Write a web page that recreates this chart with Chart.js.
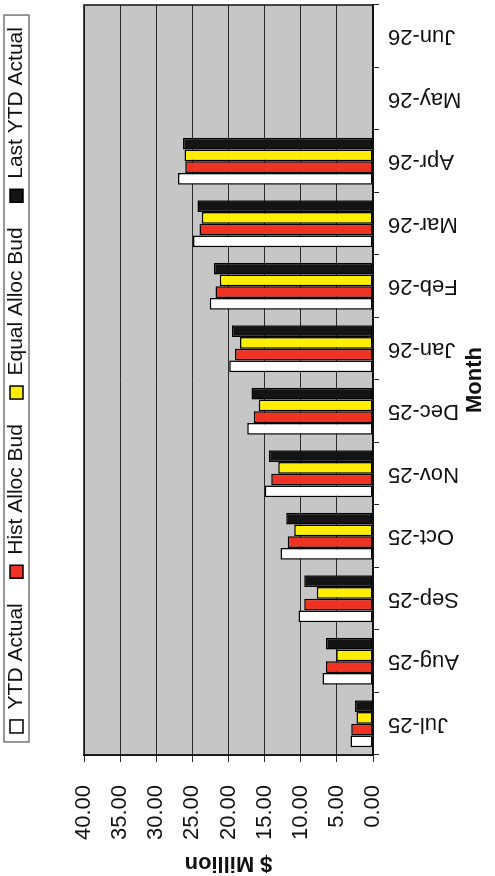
<!DOCTYPE html>
<html>
<head>
<meta charset="utf-8">
<style>
html,body{margin:0;padding:0;background:#fff;overflow:hidden;width:495px;height:876px;}
#wrap{position:absolute;left:0;top:0;width:876px;height:495px;transform-origin:0 0;transform:translate(0px,876px) rotate(-90deg);background:#fff;}
canvas{display:block;}
</style>
<script src="https://cdn.jsdelivr.net/npm/chart.js@4.4.1/dist/chart.umd.min.js"></script>
</head>
<body>
<div id="wrap"><canvas id="c" width="876" height="495"></canvas></div>
<script>
const months = ["Jul-25","Aug-25","Sep-25","Oct-25","Nov-25","Dec-25","Jan-26","Feb-26","Mar-26","Apr-26","May-26","Jun-26"];
const ytdActual     = [3.1, 7.0, 10.3, 12.8, 15.0, 17.4, 19.9, 22.6, 24.9, 27.0, null, null];
const histAllocBud  = [3.0, 6.5,  9.5, 11.8, 14.1, 16.5, 19.1, 21.8, 24.0, 26.0, null, null];
const equalAllocBud = [2.3, 5.1,  7.8, 10.9, 13.1, 15.8, 18.4, 21.2, 23.7, 26.1, null, null];
const lastYtdActual = [2.5, 6.5,  9.5, 12.0, 14.4, 16.8, 19.5, 22.0, 24.3, 26.3, null, null];
const seriesNames = ["YTD Actual","Hist Alloc Bud","Equal Alloc Bud","Last YTD Actual"];
const valueTicks = [0, 5, 10, 15, 20, 25, 30, 35, 40];

Chart.defaults.font.family = '"Liberation Sans", Arial, sans-serif';
Chart.defaults.color = '#111';

const colors = ['#ffffff', '#ee3322', '#ffee00', '#141414'];
const seriesData = [ytdActual, histAllocBud, equalAllocBud, lastYtdActual];

const PAD_TOP = -19;
const LEGEND_BAND = 103;

const frame = {
  id: 'frame',
  beforeUpdate(chart) {
    const lg = chart.legend;
    if (lg && !lg._bandPatched) {
      const f = lg.fit;
      lg.fit = function () { f.call(this); this.height = LEGEND_BAND; };
      lg._bandPatched = true;
    }
  },
  beforeDraw(chart) {
    const a = chart.chartArea, ctx = chart.ctx;
    ctx.save();
    ctx.fillStyle = '#c6c6c6';
    ctx.fillRect(a.left, a.top, a.right - a.left, a.bottom - a.top);
    ctx.restore();
  },
  afterLayout(chart) {
    const lg = chart.legend;
    if (lg) {
      const w = lg.right - lg.left;
      const c = (chart.chartArea.left + chart.chartArea.right) / 2;
      lg.left = c - w / 2;
      lg.right = c + w / 2;
    }
  },
  afterDatasetsDraw(chart) {
    const a = chart.chartArea, ctx = chart.ctx;
    ctx.save();
    ctx.strokeStyle = '#111';
    ctx.lineWidth = 1.5;
    ctx.strokeRect(a.left, a.top, a.right - a.left, a.bottom - a.top);
    ctx.restore();
  },
  afterDraw(chart) {
    const lg = chart.legend;
    if (!lg || !lg.legendHitBoxes || !lg.legendHitBoxes.length) return;
    const hb = lg.legendHitBoxes;
    const first = hb[0], last = hb[hb.length - 1];
    const l = first.left - 9, r = last.left + last.width + 12;
    const t = first.top - 2, b = first.top + first.height + 2;
    const ctx = chart.ctx;
    ctx.save();
    ctx.strokeStyle = '#555';
    ctx.lineWidth = 1.2;
    ctx.strokeRect(l, t, r - l, b - t);
    ctx.restore();
  }
};

new Chart(document.getElementById('c'), {
  type: 'bar',
  data: {
    labels: months,
    datasets: seriesNames.map((name, i) => ({
      label: name,
      data: seriesData[i],
      backgroundColor: colors[i],
      borderColor: '#000',
      borderWidth: 1.5,
      borderSkipped: false,
      categoryPercentage: 0.75,
      barPercentage: 1.0
    }))
  },
  options: {
    responsive: false,
    animation: false,
    events: [],
    layout: { padding: { top: PAD_TOP, right: 5, left: 0, bottom: 0 } },
    plugins: {
      legend: {
        position: 'top',
        labels: {
          font: { size: 21 },
          boxWidth: 13,
          boxHeight: 13,
          padding: 25,
          color: '#111'
        }
      },
      tooltip: { enabled: false }
    },
    scales: {
      x: {
        type: 'category',
        position: 'bottom',
        offset: true,
        afterFit(s) { s.height = 122; },
        grid: { display: true, drawOnChartArea: false, tickLength: 6, color: '#222', offset: true },
        border: { display: true, color: '#111', width: 1.5 },
        ticks: { font: { size: 22 }, minRotation: 90, maxRotation: 90, padding: 9, color: '#111', autoSkip: false },
        title: { display: true, text: 'Month', font: { size: 22, weight: 'bold' }, color: '#111', padding: { top: 0, bottom: 7 } }
      },
      y: {
        type: 'linear',
        position: 'left',
        min: 0,
        max: 40,
        afterFit(s) { s.width = 121; },
        afterBuildTicks(s) { s.ticks = valueTicks.map(v => ({ value: v })); },
        grid: { color: '#2a2a2a', lineWidth: 1, tickLength: 7, drawOnChartArea: true },
        border: { display: true, color: '#111', width: 1.5 },
        ticks: { font: { size: 22 }, padding: 23, color: '#111', callback: v => Number(v).toFixed(2) },
        title: { display: true, text: '$ Million', font: { size: 22, weight: 'bold' }, color: '#111', padding: 0 }
      }
    }
  },
  plugins: [frame]
});
</script>
</body>
</html>
